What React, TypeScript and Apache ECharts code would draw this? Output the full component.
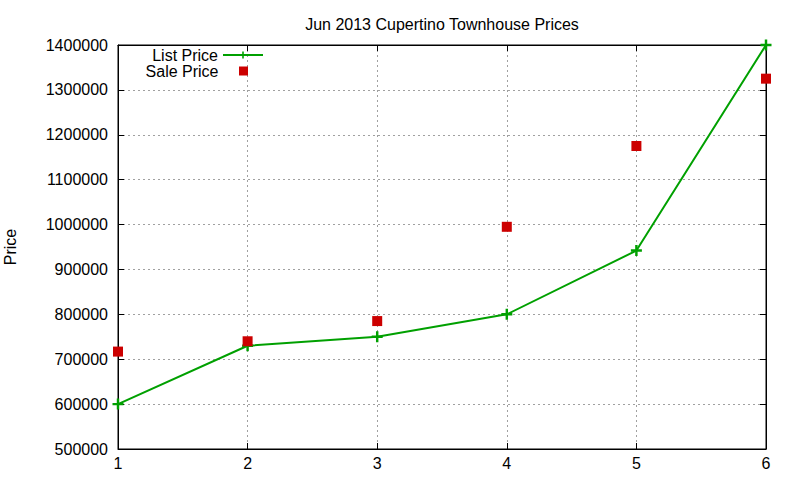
import React, { useEffect, useRef } from 'react';
import * as echarts from 'echarts';

// Jun 2013 Cupertino townhouse prices, by listing index
const xValues = [1, 2, 3, 4, 5, 6];
const listPrices = [600000, 730000, 750000, 800000, 942000, 1400000];
const salePrices = [717000, 740000, 785000, 995000, 1175000, 1325000];

const TITLE = 'Jun 2013 Cupertino Townhouse Prices';
const FONT = '"Liberation Sans", Arial, sans-serif';
const GREEN = '#00a000';
const RED = '#cc0000';
const PLUS = 'path://M3.5,0h2v9h-2z M0,3.5h9v2h-9z';
const SQUARE = 'path://M0,0h9v9h-9z';

const App: React.FC = () => {
  const chartRef = useRef<HTMLDivElement>(null);

  useEffect(() => {
    if (!chartRef.current) return;
    const chart = echarts.init(chartRef.current, undefined, { renderer: 'svg' });

    const gridLine = { show: true, lineStyle: { color: '#a0a0a0', type: [2, 3] as any, width: 1 } };
    const tickStyle = { show: true, inside: true, length: 6, lineStyle: { color: '#000' } };
    const legendText = { fontSize: 16, color: '#000', fontFamily: FONT };

    const option: any = {
      animation: false,
      backgroundColor: '#fff',
      textStyle: { fontFamily: FONT },
      title: {
        text: TITLE,
        left: 437,
        top: 11,
        textAlign: 'center',
        textStyle: { fontSize: 16, fontWeight: 'normal', color: '#000', fontFamily: FONT },
      },
      legend: [
        {
          data: ['List Price'],
          right: 531,
          top: 42,
          align: 'right',
          itemWidth: 40,
          itemHeight: 9,
          textStyle: legendText,
        },
        {
          data: [{ name: 'Sale Price', icon: SQUARE }],
          right: 547,
          top: 58,
          align: 'right',
          itemWidth: 40,
          itemHeight: 9,
          textStyle: legendText,
        },
      ],
      grid: {
        left: 118,
        right: 34,
        top: 45,
        bottom: 31,
        outerBoundsMode: 'none',
        containLabel: false,
        show: true,
        borderColor: '#000',
        borderWidth: 1,
      },
      xAxis: [
        {
          type: 'value',
          min: 1,
          max: 6,
          interval: 1,
          axisLine: { show: true, lineStyle: { color: '#000' } },
          axisTick: tickStyle,
          axisLabel: { color: '#000', fontSize: 16, margin: 6, fontFamily: FONT },
          splitLine: gridLine,
        },
        {
          type: 'value',
          position: 'top',
          min: 1,
          max: 6,
          interval: 1,
          axisLine: { show: true, lineStyle: { color: '#000' } },
          axisTick: tickStyle,
          axisLabel: { show: false },
          splitLine: { show: false },
        },
      ],
      yAxis: [
        {
          type: 'value',
          min: 500000,
          max: 1400000,
          interval: 100000,
          name: 'Price',
          nameLocation: 'middle',
          nameGap: 100,
          nameTextStyle: { fontSize: 16, color: '#000', fontFamily: FONT },
          axisLine: { show: true, lineStyle: { color: '#000' } },
          axisTick: tickStyle,
          axisLabel: {
            color: '#000',
            fontSize: 16,
            margin: 10,
            fontFamily: FONT,
            formatter: (v: number) => String(v),
          },
          splitLine: gridLine,
        },
        {
          type: 'value',
          position: 'right',
          min: 500000,
          max: 1400000,
          interval: 100000,
          axisLine: { show: true, lineStyle: { color: '#000' } },
          axisTick: tickStyle,
          axisLabel: { show: false },
          splitLine: { show: false },
        },
      ],
      series: [
        {
          name: 'List Price',
          type: 'line',
          data: xValues.map((x, i) => [x, listPrices[i]]),
          symbol: PLUS,
          symbolSize: 11,
          showAllSymbol: true,
          itemStyle: { color: GREEN },
          lineStyle: { color: GREEN, width: 2 },
          z: 3,
        },
        {
          name: 'Sale Price',
          type: 'scatter',
          data: xValues.map((x, i) => [x, salePrices[i]]),
          symbol: 'rect',
          symbolSize: 10,
          itemStyle: { color: RED, opacity: 1 },
          z: 4,
        },
      ],
    };

    chart.setOption(option);
    return () => chart.dispose();
  }, []);

  return (
    <div
      ref={chartRef}
      style={{ position: 'absolute', left: 0, top: 0, width: 800, height: 480 }}
    />
  );
};

export default App;
